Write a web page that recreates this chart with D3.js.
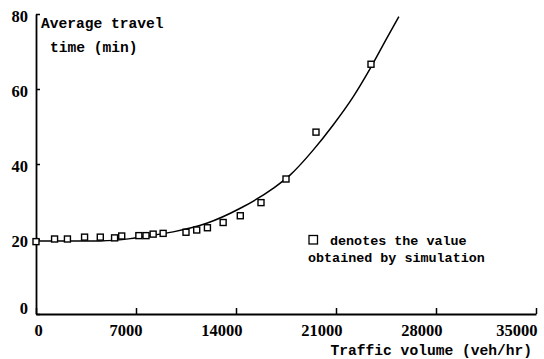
<!DOCTYPE html>
<html>
<head>
<meta charset="utf-8">
<script src="https://cdn.jsdelivr.net/npm/d3@7"></script>
<style>
  html, body { margin: 0; padding: 0; background: #fff; }
  svg { display: block; }
</style>
</head>
<body>
<div id="chart"></div>
<script>
// ---- data ----
const simVolume = [0, 1300, 2200, 3400, 4500, 5500, 6000, 7200, 7700, 8200, 8900, 10500, 11250, 12000, 13100, 14300, 15750, 17500, 19600, 23450];
const simTime   = [19.3, 20.0, 20.0, 20.5, 20.5, 20.3, 20.8, 20.9, 20.9, 21.3, 21.5, 21.8, 22.4, 23.0, 24.4, 26.2, 29.7, 36.0, 48.5, 66.6];

const curveVolume = [0, 4500, 6600, 7300, 9600, 11950, 14300, 16600, 17800, 19400, 20800, 22200, 23400, 24550, 25400];
const curveTime   = [19.5, 19.5, 20.1, 20.5, 21.9, 24.2, 28.2, 33.5, 37.1, 43.7, 50.4, 57.9, 65.5, 73.5, 79.3];

const xTicks = [0, 7000, 14000, 21000, 28000, 35000];
const yTicks = [0, 20, 40, 60, 80];

const yTitleLines = ["Average travel", "time (min)"];
const xTitle = "Traffic volume (veh/hr)";
const legendLines = ["denotes the value", "obtained by simulation"];

// ---- drawing ----
const W = 544, H = 359;
const svg = d3.select("#chart").append("svg").attr("width", W).attr("height", H);

const x = d3.scaleLinear().domain([0, 35000]).range([36, 536]);
const y = d3.scaleLinear().domain([0, 80]).range([314, 14]);

const monoFont = "'Liberation Mono', 'DejaVu Sans Mono', monospace";
const numFont = "'Liberation Serif', 'DejaVu Serif', serif";

// X axis
const gx = svg.append("g").attr("transform", `translate(0,${y(0)})`)
  .call(d3.axisBottom(x).tickValues(xTicks).tickSize(-6).tickSizeOuter(0).tickFormat(d3.format("d")));
gx.select(".domain").attr("stroke", "#000").attr("stroke-width", 1.8);
gx.selectAll(".tick line").attr("stroke", "#000").attr("stroke-width", 1.5);
gx.selectAll(".tick text")
  .attr("font-family", numFont).attr("font-weight", "bold").attr("font-size", 16.5)
  .attr("fill", "#000")
  .attr("y", 22).attr("dy", 0)
  .attr("text-anchor", d => d === 0 ? "middle" : "end")
  .attr("x", d => d === 0 ? 2 : (d === 35000 ? 1 : 6));

// Y axis
const gy = svg.append("g").attr("transform", `translate(${x(0)},0)`)
  .call(d3.axisLeft(y).tickValues(yTicks).tickSize(-4).tickSizeOuter(0));
gy.select(".domain").attr("stroke", "#000").attr("stroke-width", 1.8);
gy.selectAll(".tick line").attr("stroke", "#000").attr("stroke-width", 1.5);
gy.selectAll(".tick text")
  .attr("font-family", numFont).attr("font-weight", "bold").attr("font-size", 16.5)
  .attr("fill", "#000")
  .attr("x", d => d === 0 ? -8 : -8)
  .attr("dy", d => d === 0 ? -1 : 7.5)
  .attr("text-anchor", "end");

// fitted curve
const curveData = curveVolume.map((v, i) => [v, curveTime[i]]);
const line = d3.line().x(d => x(d[0])).y(d => y(d[1])).curve(d3.curveMonotoneX);
svg.append("path").datum(curveData)
  .attr("d", line)
  .attr("fill", "none").attr("stroke", "#000").attr("stroke-width", 1.5);

// simulation points
const simData = simVolume.map((v, i) => [v, simTime[i]]);
const s = 6;
svg.append("g").selectAll("rect").data(simData).join("rect")
  .attr("x", d => x(d[0]) - s / 2)
  .attr("y", d => y(d[1]) - s / 2)
  .attr("width", s).attr("height", s)
  .attr("fill", "#fff").attr("stroke", "#000").attr("stroke-width", 1.4);

// y title
svg.append("text").attr("x", 41).attr("y", 28)
  .attr("font-family", monoFont).attr("font-weight", "bold").attr("font-size", 14.6)
  .attr("fill", "#000").text(yTitleLines[0]);
svg.append("text").attr("x", 50).attr("y", 52)
  .attr("font-family", monoFont).attr("font-weight", "bold").attr("font-size", 14.6)
  .attr("fill", "#000").text(yTitleLines[1]);

// x title
svg.append("text").attr("x", 532).attr("y", 355)
  .attr("text-anchor", "end")
  .attr("font-family", monoFont).attr("font-weight", "bold").attr("font-size", 14.6)
  .attr("fill", "#000").text(xTitle);

// legend
svg.append("rect").attr("x", 309).attr("y", 235.5).attr("width", 8.5).attr("height", 8.5)
  .attr("fill", "#fff").attr("stroke", "#000").attr("stroke-width", 1.3);
svg.append("text").attr("x", 330).attr("y", 244.5)
  .attr("font-family", monoFont).attr("font-weight", "bold").attr("font-size", 13.4)
  .attr("fill", "#000").text(legendLines[0]);
svg.append("text").attr("x", 308).attr("y", 262)
  .attr("font-family", monoFont).attr("font-weight", "bold").attr("font-size", 13.4)
  .attr("fill", "#000").text(legendLines[1]);
</script>
</body>
</html>
